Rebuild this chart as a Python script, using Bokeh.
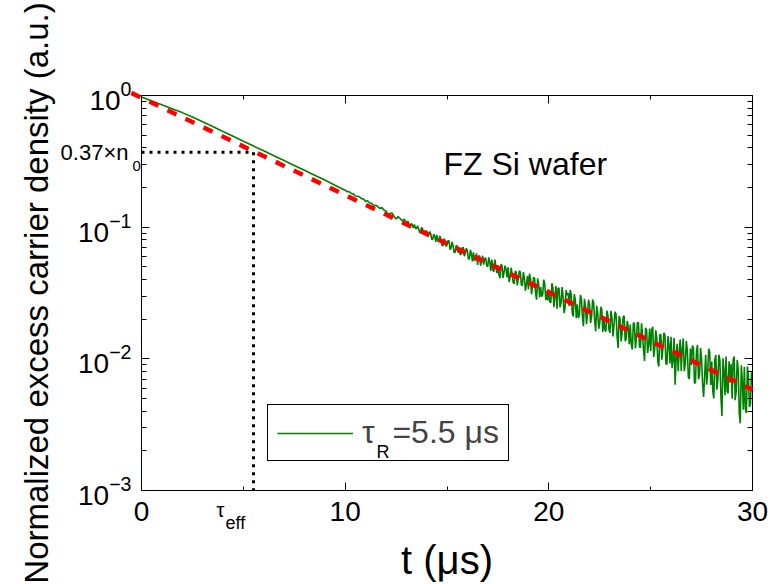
from bokeh.plotting import figure
from bokeh.models import (FixedTicker, LogAxis, LinearAxis, Legend, LegendItem, Label,
                          CustomJSTickFormatter, LogTickFormatter)
from bokeh.core.properties import value
from bokeh.embed import file_html
from bokeh.resources import INLINE

FONT = "Liberation Sans"

# ---------------- data ----------------
x_major = [0, 10, 20, 30]
x_minor = [5, 15, 25]
y_major = [1e-3, 1e-2, 1e-1, 1.0]
y_minor = [2e-3, 3e-3, 4e-3, 5e-3, 6e-3, 7e-3, 8e-3, 9e-3,
           2e-2, 3e-2, 4e-2, 5e-2, 6e-2, 7e-2, 8e-2, 9e-2,
           2e-1, 3e-1, 4e-1, 5e-1, 6e-1, 7e-1, 8e-1, 9e-1]

# measured decay: time (microseconds) and log10 of normalized excess carrier density
green_t = [0.0, 0.5, 1.0, 1.5, 2.0, 2.5, 3.0, 3.5, 4.0, 4.5,
           5.0, 5.5, 6.0, 6.5, 7.0, 7.5, 8.0, 8.5, 9.0, 9.5,
           10.0, 10.1, 10.2, 10.3, 10.4, 10.5, 10.6, 10.7, 10.8, 10.9,
           11.0, 11.1, 11.2, 11.3, 11.4, 11.5, 11.6, 11.7, 11.8, 11.9,
           12.0, 12.1, 12.2, 12.3, 12.4, 12.5, 12.6, 12.7, 12.8, 12.9,
           13.0, 13.05, 13.1, 13.15, 13.2, 13.25, 13.3, 13.35, 13.4, 13.45,
           13.5, 13.55, 13.6, 13.65, 13.7, 13.75, 13.8, 13.85, 13.9, 13.95,
           14.0, 14.05, 14.1, 14.15, 14.2, 14.25, 14.3, 14.35, 14.4, 14.45,
           14.5, 14.55, 14.6, 14.65, 14.7, 14.75, 14.8, 14.85, 14.9, 14.95,
           15.0, 15.05, 15.1, 15.15, 15.2, 15.25, 15.3, 15.35, 15.4, 15.45,
           15.5, 15.55, 15.6, 15.65, 15.7, 15.75, 15.8, 15.85, 15.9, 15.95,
           16.0, 16.05, 16.1, 16.15, 16.2, 16.25, 16.3, 16.35, 16.4, 16.45,
           16.5, 16.55, 16.6, 16.65, 16.7, 16.75, 16.8, 16.85, 16.9, 16.95,
           17.0, 17.05, 17.1, 17.15, 17.2, 17.25, 17.3, 17.35, 17.4, 17.45,
           17.5, 17.55, 17.6, 17.65, 17.7, 17.75, 17.8, 17.85, 17.9, 17.95,
           18.0, 18.05, 18.1, 18.15, 18.2, 18.25, 18.3, 18.35, 18.4, 18.45,
           18.5, 18.55, 18.6, 18.65, 18.7, 18.75, 18.8, 18.85, 18.9, 18.95,
           19.0, 19.05, 19.1, 19.15, 19.2, 19.25, 19.3, 19.35, 19.4, 19.45,
           19.5, 19.55, 19.6, 19.65, 19.7, 19.75, 19.8, 19.85, 19.9, 19.95,
           20.0, 20.05, 20.1, 20.15, 20.2, 20.25, 20.3, 20.35, 20.4, 20.45,
           20.5, 20.55, 20.6, 20.65, 20.7, 20.75, 20.8, 20.85, 20.9, 20.95,
           21.0, 21.05, 21.1, 21.15, 21.2, 21.25, 21.3, 21.35, 21.4, 21.45,
           21.5, 21.55, 21.6, 21.65, 21.7, 21.75, 21.8, 21.85, 21.9, 21.95,
           22.0, 22.05, 22.1, 22.15, 22.2, 22.25, 22.3, 22.35, 22.4, 22.45,
           22.5, 22.55, 22.6, 22.65, 22.7, 22.75, 22.8, 22.85, 22.9, 22.95,
           23.0, 23.05, 23.1, 23.15, 23.2, 23.25, 23.3, 23.35, 23.4, 23.45,
           23.5, 23.55, 23.6, 23.65, 23.7, 23.75, 23.8, 23.85, 23.9, 23.95,
           24.0, 24.05, 24.1, 24.15, 24.2, 24.25, 24.3, 24.35, 24.4, 24.45,
           24.5, 24.55, 24.6, 24.65, 24.7, 24.75, 24.8, 24.85, 24.9, 24.95,
           25.0, 25.05, 25.1, 25.15, 25.2, 25.25, 25.3, 25.35, 25.4, 25.45,
           25.5, 25.55, 25.6, 25.65, 25.7, 25.75, 25.8, 25.85, 25.9, 25.95,
           26.0, 26.05, 26.1, 26.15, 26.2, 26.25, 26.3, 26.35, 26.4, 26.45,
           26.5, 26.55, 26.6, 26.65, 26.7, 26.75, 26.8, 26.85, 26.9, 26.95,
           27.0, 27.05, 27.1, 27.15, 27.2, 27.25, 27.3, 27.35, 27.4, 27.45,
           27.5, 27.55, 27.6, 27.65, 27.7, 27.75, 27.8, 27.85, 27.9, 27.95,
           28.0, 28.05, 28.1, 28.15, 28.2, 28.25, 28.3, 28.35, 28.4, 28.45,
           28.5, 28.55, 28.6, 28.65, 28.7, 28.75, 28.8, 28.85, 28.9, 28.95,
           29.0, 29.05, 29.1, 29.15, 29.2, 29.25, 29.3, 29.35, 29.4, 29.45,
           29.5, 29.55, 29.6, 29.65, 29.7, 29.75, 29.8, 29.85, 29.9, 29.95,
           30.0]
green_log10 = [
    -0.012, -0.042, -0.071, -0.100, -0.130, -0.164, -0.199, -0.236, -0.273, -0.310,
    -0.347, -0.384, -0.420, -0.457, -0.494, -0.531, -0.568, -0.605, -0.642, -0.681,
    -0.719, -0.731, -0.731, -0.744, -0.747, -0.763, -0.765, -0.769, -0.783, -0.786,
    -0.805, -0.799, -0.816, -0.819, -0.839, -0.833, -0.843, -0.858, -0.850, -0.869,
    -0.877, -0.903, -0.896, -0.892, -0.919, -0.938, -0.920, -0.934, -0.952, -0.938,
    -0.970, -0.955, -0.960, -0.997, -1.002, -0.972, -0.983, -1.007, -0.980, -1.007,
    -1.013, -0.989, -1.010, -1.037, -1.044, -1.001, -1.014, -1.041, -1.025, -1.046,
    -1.025, -1.072, -1.062, -1.033, -1.050, -1.093, -1.093, -1.054, -1.072, -1.111,
    -1.058, -1.100, -1.108, -1.067, -1.092, -1.137, -1.142, -1.088, -1.099, -1.145,
    -1.137, -1.101, -1.105, -1.170, -1.158, -1.112, -1.143, -1.192, -1.192, -1.138,
    -1.143, -1.195, -1.159, -1.210, -1.203, -1.156, -1.154, -1.221, -1.198, -1.160,
    -1.180, -1.241, -1.242, -1.172, -1.204, -1.260, -1.192, -1.254, -1.245, -1.199,
    -1.287, -1.219, -1.218, -1.293, -1.248, -1.217, -1.284, -1.237, -1.234, -1.294,
    -1.299, -1.229, -1.266, -1.332, -1.247, -1.320, -1.340, -1.246, -1.295, -1.350,
    -1.288, -1.362, -1.388, -1.283, -1.291, -1.386, -1.343, -1.293, -1.321, -1.382,
    -1.304, -1.418, -1.380, -1.308, -1.358, -1.422, -1.429, -1.334, -1.342, -1.442,
    -1.393, -1.332, -1.340, -1.440, -1.442, -1.341, -1.389, -1.483, -1.435, -1.372,
    -1.471, -1.353, -1.393, -1.510, -1.451, -1.381, -1.388, -1.505, -1.551, -1.389,
    -1.433, -1.533, -1.455, -1.528, -1.513, -1.398, -1.430, -1.555, -1.508, -1.556,
    -1.473, -1.572, -1.570, -1.426, -1.459, -1.608, -1.523, -1.448, -1.620, -1.463,
    -1.465, -1.609, -1.573, -1.455, -1.530, -1.653, -1.605, -1.478, -1.517, -1.500,
    -1.601, -1.477, -1.513, -1.652, -1.678, -1.508, -1.553, -1.691, -1.586, -1.690,
    -1.669, -1.514, -1.544, -1.681, -1.753, -1.544, -1.603, -1.736, -1.654, -1.551,
    -1.587, -1.727, -1.678, -1.550, -1.574, -1.710, -1.791, -1.597, -1.652, -1.772,
    -1.729, -1.604, -1.624, -1.795, -1.688, -1.778, -1.793, -1.634, -1.668, -1.777,
    -1.803, -1.636, -1.685, -1.830, -1.747, -1.642, -1.661, -1.828, -1.918, -1.674,
    -1.699, -1.868, -1.800, -1.680, -1.675, -1.866, -1.846, -1.712, -1.760, -1.889,
    -1.739, -1.896, -1.929, -1.729, -1.728, -1.920, -1.839, -1.725, -1.725, -1.907,
    -1.915, -1.730, -1.818, -1.931, -2.017, -1.764, -1.780, -1.955, -1.892, -1.769,
    -1.942, -1.779, -1.757, -1.986, -1.918, -1.784, -1.839, -2.021, -2.058, -1.818,
    -1.816, -2.006, -1.919, -1.803, -1.821, -2.040, -2.039, -1.828, -1.893, -2.035,
    -1.832, -2.071, -2.009, -1.841, -2.197, -2.000, -1.886, -2.094, -1.946, -1.853,
    -2.092, -1.925, -1.845, -2.094, -2.043, -1.864, -1.934, -2.141, -2.153, -1.922,
    -2.047, -1.899, -1.914, -2.187, -2.179, -1.937, -1.894, -2.155, -2.123, -1.917,
    -2.002, -2.193, -2.290, -2.130, -1.970, -2.196, -2.095, -1.923, -1.950, -2.199,
    -2.021, -2.246, -2.301, -2.006, -1.971, -2.235, -2.160, -1.969, -2.012, -2.288,
    -2.435, -1.997, -2.091, -2.277, -1.982, -2.245, -2.262, -2.019, -2.179, -2.039,
    -2.303, -2.006, -1.982, -2.314, -2.246, -2.007, -2.082, -2.415, -2.490, -2.050,
    -2.168, -2.387, -2.061, -2.380, -2.412, -2.058, -2.133, -2.366, -2.341, -2.102,
    -2.189]
green_y = [10 ** v for v in green_log10]

# single-exponential fit (straight line on the log axis)
fit_t = [-0.5, 30.0]
fit_y = [1.047, 0.00583]

# 1/e level and effective lifetime markers
n0_level = 0.37
tau_eff = 5.5
y_floor = 1e-3

legend_text = "\u03c4\u00a0\u00a0=5.5 \u03bcs"

# ---------------- figure ----------------
p = figure(width=773, height=584, x_range=(0, 30), y_range=(1e-3, 1.0),
           y_axis_type="log", output_backend="svg", toolbar_location=None,
           min_border_left=141, min_border_right=21, min_border_top=95,
           min_border_bottom=92)
p.xgrid.visible = False
p.ygrid.visible = False
p.outline_line_color = "black"
p.outline_line_width = 1
p.background_fill_color = "white"
p.border_fill_color = "white"

xt = FixedTicker(ticks=x_major, minor_ticks=x_minor)
yt = FixedTicker(ticks=y_major, minor_ticks=y_minor)

def style_axis(ax, minor_in):
    ax.axis_line_color = "black"
    ax.major_tick_line_color = "black"
    ax.minor_tick_line_color = "black"
    ax.major_tick_in = 8
    ax.major_tick_out = 0
    ax.minor_tick_in = minor_in
    ax.minor_tick_out = 0
    ax.major_label_text_font = FONT
    ax.major_label_text_font_size = "28px"
    ax.major_label_text_color = "black"
    ax.axis_label_text_font = FONT
    ax.axis_label_text_font_style = "normal"
    ax.axis_label_text_color = "black"

xa = p.xaxis[0]
xa.ticker = xt
style_axis(xa, 4)
xa.major_label_standoff = 11
xa.axis_label = "t (\u03bcs)"
xa.axis_label_text_font_size = "40px"
xa.axis_label_standoff = 14

ya = p.yaxis[0]
ya.ticker = yt
ya.formatter = LogTickFormatter()
style_axis(ya, 5)
ya.major_label_standoff = 10
ya.axis_label = "Normalized excess carrier density (a.u.)"
ya.axis_label_text_font_size = "33px"
ya.axis_label_standoff = 20

top = LinearAxis(ticker=xt, formatter=CustomJSTickFormatter(code="return ''"),
                 major_label_standoff=0)
style_axis(top, 4)
p.add_layout(top, "above")
right = LogAxis(ticker=yt, formatter=CustomJSTickFormatter(code="return ''"),
                major_label_standoff=0)
style_axis(right, 5)
p.add_layout(right, "right")

green_r = p.line(green_t, green_y, line_color="#008000", line_width=1.6)
p.line(fit_t, fit_y, line_color="#ff0000", line_width=4.5, line_dash="10 10",
       level="overlay")
p.line([0, tau_eff], [n0_level, n0_level], line_color="black", line_width=3,
       line_dash="3 5")
p.line([tau_eff, tau_eff], [n0_level, y_floor], line_color="black", line_width=3,
       line_dash="3 5")

# subscript of the legend's tau (drawn under the transparent legend)
p.add_layout(Label(x=11.54, y=0.00195, text="R", text_font=FONT,
                   text_font_size="18px", text_align="left",
                   text_baseline="alphabetic", text_color="black"))

legend = Legend(items=[LegendItem(label=legend_text, renderers=[green_r])],
                location=(126, 29), label_text_font=FONT, label_text_font_size="32px",
                glyph_width=76, glyph_height=24, padding=9, label_standoff=9,
                border_line_color="black", border_line_width=1,
                border_line_alpha=1.0, margin=0, spacing=0,
                background_fill_alpha=0.0)
p.add_layout(legend)

def txt(text, x, y, size, xo=0, yo=0, align="left"):
    p.text(x=[x], y=[y], text=[text], x_offset=xo, y_offset=yo,
           text_font=value(FONT), text_font_size=value(size), text_align=align,
           text_baseline="middle", text_color="black", level="overlay")

txt("0.37\u00d7n", 0, n0_level, "22px", xo=-13, yo=0, align="right")
txt("0", 0, n0_level, "15px", xo=-9, yo=14)
txt("\u03c4", tau_eff, y_floor, "20px", xo=-37, yo=19)
txt("eff", tau_eff, y_floor, "18px", xo=-28, yo=32)
txt("FZ Si wafer", 14.83, 0.300, "32px")

open("out.html", "w").write(file_html(p, INLINE))
